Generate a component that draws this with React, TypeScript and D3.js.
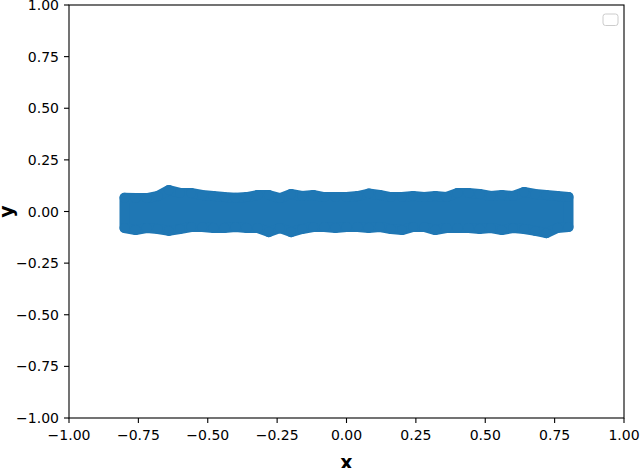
import * as d3 from 'd3';
import { useEffect, useRef } from 'react';

const WIDTH = 640;
const HEIGHT = 468;
const MARGIN = { top: 5, right: 16, bottom: 50, left: 69 };
const POINT_COLOR = '#1f77b4';
const MARKER_RADIUS = 5;

const X_TICKS = [-1, -0.75, -0.5, -0.25, 0, 0.25, 0.5, 0.75, 1];
const Y_TICKS = [-1, -0.75, -0.5, -0.25, 0, 0.25, 0.5, 0.75, 1];

const BAND_X = [
    -0.8, -0.76, -0.72, -0.68, -0.64, -0.6, -0.56, -0.52, -0.48, -0.44, -0.4, -0.36, -0.32, -0.28,
    -0.24, -0.2, -0.16, -0.12, -0.08, -0.04, 0, 0.04, 0.08, 0.12, 0.16, 0.2, 0.24, 0.28, 0.32, 0.36,
    0.4, 0.44, 0.48, 0.52, 0.56, 0.6, 0.64, 0.68, 0.72, 0.76, 0.8,
];
// highest point centre at each x
const BAND_TOP = [
    0.067, 0.065, 0.065, 0.075, 0.104, 0.09, 0.09, 0.08, 0.075, 0.07, 0.067, 0.07, 0.08, 0.08,
    0.065, 0.085, 0.075, 0.08, 0.07, 0.07, 0.07, 0.075, 0.087, 0.08, 0.07, 0.07, 0.075, 0.07, 0.075,
    0.07, 0.09, 0.09, 0.085, 0.075, 0.08, 0.075, 0.095, 0.085, 0.08, 0.075, 0.07,
];
// lowest point centre at each x
const BAND_BOTTOM = [
    -0.08, -0.09, -0.08, -0.085, -0.094, -0.085, -0.075, -0.075, -0.08, -0.08, -0.075, -0.08, -0.08,
    -0.1, -0.08, -0.1, -0.085, -0.075, -0.075, -0.08, -0.075, -0.075, -0.08, -0.075, -0.085, -0.09,
    -0.075, -0.075, -0.09, -0.08, -0.08, -0.08, -0.085, -0.08, -0.09, -0.08, -0.085, -0.094, -0.105,
    -0.08, -0.075,
];

const FONT = '"DejaVu Sans", sans-serif';

const App: React.FC = () => {
    const svgRef = useRef<SVGSVGElement>(null);
    const innerWidth = WIDTH - MARGIN.left - MARGIN.right;
    const innerHeight = HEIGHT - MARGIN.top - MARGIN.bottom;

    useEffect(() => {
        if (!svgRef.current) return;
        const xScale = d3.scaleLinear().domain([-1, 1]).range([0, innerWidth]);
        const yScale = d3.scaleLinear().domain([-1, 1]).range([innerHeight, 0]);
        const fmt = d3.format('.2f');

        const svg = d3.select(svgRef.current);
        svg.selectAll('*').remove();
        svg.append('rect').attr('width', WIDTH).attr('height', HEIGHT).attr('fill', '#ffffff');

        const g = svg.append('g').attr('transform', `translate(${MARGIN.left},${MARGIN.top})`);

        // scatter band
        const band = BAND_X.map((x, i) => ({ x, top: BAND_TOP[i], bottom: BAND_BOTTOM[i] }));
        const area = d3
            .area<{ x: number; top: number; bottom: number }>()
            .x((d) => xScale(d.x))
            .y0((d) => yScale(d.bottom))
            .y1((d) => yScale(d.top));
        g.append('path')
            .datum(band)
            .attr('d', area)
            .attr('fill', POINT_COLOR)
            .attr('stroke', POINT_COLOR)
            .attr('stroke-width', MARKER_RADIUS * 2)
            .attr('stroke-linejoin', 'round');

        const pts = band.flatMap((d) => [
            { x: d.x, y: d.top },
            { x: d.x, y: d.bottom },
        ]);
        g.selectAll('circle.pt')
            .data(pts)
            .enter()
            .append('circle')
            .attr('class', 'pt')
            .attr('cx', (d) => xScale(d.x))
            .attr('cy', (d) => yScale(d.y))
            .attr('r', MARKER_RADIUS)
            .attr('fill', POINT_COLOR);

        // frame
        g.append('rect')
            .attr('width', innerWidth)
            .attr('height', innerHeight)
            .attr('fill', 'none')
            .attr('stroke', '#000')
            .attr('stroke-width', 1.1);

        // x ticks
        X_TICKS.forEach((t) => {
            const x = xScale(t);
            g.append('line')
                .attr('x1', x)
                .attr('x2', x)
                .attr('y1', innerHeight)
                .attr('y2', innerHeight + 5)
                .attr('stroke', '#000')
                .attr('stroke-width', 1.1);
            g.append('text')
                .attr('x', x)
                .attr('y', innerHeight + 22)
                .attr('text-anchor', 'middle')
                .style('font-family', FONT)
                .style('font-size', '14px')
                .text(fmt(t));
        });

        // y ticks
        Y_TICKS.forEach((t) => {
            const y = yScale(t);
            g.append('line')
                .attr('x1', 0)
                .attr('x2', -5)
                .attr('y1', y)
                .attr('y2', y)
                .attr('stroke', '#000')
                .attr('stroke-width', 1.1);
            g.append('text')
                .attr('x', -10)
                .attr('y', y + 5)
                .attr('text-anchor', 'end')
                .style('font-family', FONT)
                .style('font-size', '14px')
                .text(fmt(t));
        });

        // legend (empty)
        svg.append('rect')
            .attr('x', 603)
            .attr('y', 14)
            .attr('width', 15)
            .attr('height', 11.5)
            .attr('rx', 2.5)
            .attr('fill', '#ffffff')
            .attr('fill-opacity', 0.8)
            .attr('stroke', '#cccccc')
            .attr('stroke-width', 1);

        // axis labels
        svg.append('text')
            .attr('x', MARGIN.left + innerWidth / 2)
            .attr('y', HEIGHT + 1)
            .attr('text-anchor', 'middle')
            .style('font-family', FONT)
            .style('font-size', '19px')
            .style('font-weight', 'bold')
            .text('x');

        svg.append('text')
            .attr('transform', `translate(13,${MARGIN.top + innerHeight / 2}) rotate(-90)`)
            .attr('text-anchor', 'middle')
            .style('font-family', FONT)
            .style('font-size', '19px')
            .style('font-weight', 'bold')
            .text('y');
    }, [innerWidth, innerHeight]);

    return (
        <svg
            ref={svgRef}
            width={WIDTH}
            height={HEIGHT}
            style={{ position: 'absolute', left: 0, top: 0 }}
        ></svg>
    );
};

export default App;
